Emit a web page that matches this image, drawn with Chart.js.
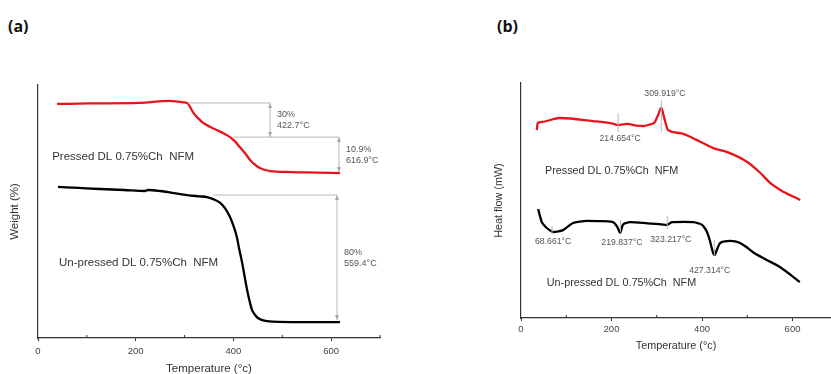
<!DOCTYPE html>
<html>
<head>
<meta charset="utf-8">
<script src="https://cdn.jsdelivr.net/npm/chart.js@4.4.1/dist/chart.umd.min.js"></script>
<style>
    html, body { margin: 0; padding: 0; background: #fff; }
    body { width: 831px; height: 374px; position: relative; overflow: hidden; }
    .panel { position: absolute; top: 0; height: 374px; }
    #boxA { left: 0; width: 415px; }
    #boxB { left: 415px; width: 416px; }
    .tag { position: absolute; top: 18px; font: bold 16px/16px "Open Sans", sans-serif; color: #111; }
</style>
</head>
<body>
<div class="tag" style="left:8px">(a)</div>
<div class="tag" style="left:497px">(b)</div>
<div class="panel" id="boxA"><canvas id="tgaChart"></canvas></div>
<div class="panel" id="boxB"><canvas id="dscChart"></canvas></div>

<script>
// ==== DATA (arbitrary y units) ====
const majorTicks = [0, 200, 400, 600];

// (a) TGA
const pressedTgaT = [39, 104, 207, 270, 290, 305, 311, 317, 327, 338, 352, 366, 380, 393, 403, 413, 424, 434, 444, 454, 465, 475, 520, 570, 618];
const pressedTgaW = [92.5, 92.7, 92.9, 93.7, 93.3, 92.9, 91.5, 89.3, 87.0, 85.0, 83.5, 82.2, 80.9, 79.4, 77.7, 75.5, 73.0, 70.4, 68.5, 67.2, 66.4, 66.0, 65.6, 65.4, 65.2];
const unpressedTgaT = [41, 84, 127, 176, 219, 225, 250, 278, 305, 330, 346, 360, 373, 383, 393, 401, 407, 412, 418, 423, 428, 433, 438, 444, 450, 459, 469, 493, 555, 618];
const unpressedTgaW = [59.7, 59.3, 58.9, 58.5, 58.1, 58.5, 58.1, 57.3, 56.5, 56.0, 55.7, 54.8, 53.4, 51.2, 47.8, 43.8, 39.9, 35.0, 29.6, 24.2, 19.0, 14.7, 11.1, 9.2, 7.9, 7.1, 6.7, 6.4, 6.3, 6.3];

// (b) DSC
const pressedDscT = [35, 37, 45, 86, 159, 200, 215, 235, 255, 270, 285, 295, 303, 310, 316, 325, 352, 389, 425, 456, 500, 529, 551, 573, 617];
const pressedDscH = [80.0, 83.0, 83.4, 85.1, 83.8, 82.8, 82.1, 82.6, 81.9, 81.7, 82.4, 83.2, 86.4, 89.4, 85.5, 80.0, 78.7, 75.7, 72.3, 70.6, 66.4, 61.7, 57.4, 54.5, 50.2];
const unpressedDscT = [38, 42, 46, 51, 57, 64, 71, 80, 93, 104, 115, 130, 146, 175, 203, 209, 214, 219, 222, 225, 233, 241, 280, 310, 323, 328, 334, 360, 380, 392, 400, 406, 411, 417, 424, 427, 429, 434, 440, 450, 462, 473, 484, 498, 512, 540, 572, 616];
const unpressedDscH = [46.4, 43.3, 40.8, 39.5, 38.3, 37.3, 36.6, 36.8, 37.4, 39.0, 40.4, 41.0, 41.3, 41.2, 40.8, 39.8, 38.3, 36.2, 37.8, 39.6, 40.5, 40.8, 40.3, 39.8, 39.6, 40.2, 40.8, 40.9, 40.8, 40.3, 39.6, 38.3, 36.6, 33.2, 28.0, 26.8, 27.2, 29.6, 31.9, 32.6, 32.8, 32.6, 31.9, 30.2, 28.1, 25.0, 21.7, 15.3];

// annotations
const tgaSteps = [
    { from: 307, to: 475, top: 92.9, bottom: 79.4, text: ['30%', '422.7°C'] },
    { from: 400, to: 616, top: 79.4, bottom: 65.6, text: ['10.9%', '616.9°C'] },
    { from: 358, to: 612, top: 56.5, bottom: 7.1, text: ['80%', '559.4°C'] }
];
const tgaNames = [[29, 71.5, 'Pressed DL 0.75%Ch  NFM'], [43, 29.6, 'Un-pressed DL 0.75%Ch  NFM']];

const dscPeaks = [
    { t: 214.654, top: 87.2, bottom: 79.1, lx: 219, ly: 76.2 },
    { t: 309.919, top: 92.8, bottom: 79.1, lx: 318, ly: 95.7 },
    { t: 68.661, top: 39.1, bottom: 35.7, lx: 71, ly: 32.3 },
    { t: 219.837, top: 41.7, bottom: 36.4, lx: 223, ly: 31.9 },
    { t: 323.217, top: 43.4, bottom: 38.0, lx: 331, ly: 33.2 },
    { t: 427.314, top: 33.2, bottom: 26.5, lx: 417, ly: 20.0 }
];
const dscNames = [[53, 62.7, 'Pressed DL 0.75%Ch  NFM'], [57, 14.9, 'Un-pressed DL 0.75%Ch  NFM']];

const FONT = '"Liberation Sans", Arial, sans-serif';
const toXY = (xs, ys) => xs.map((x, i) => ({ x: x, y: ys[i] }));

// draws the gray guide lines, labels and the small inward minor ticks
const notesPlugin = {
    id: 'notes',
    afterDatasetsDraw(chart, args, opts) {
        const ctx = chart.ctx;
        const xs = chart.scales.x, ys = chart.scales.y;
        const px = v => xs.getPixelForValue(v);
        const py = v => ys.getPixelForValue(v);
        ctx.save();
        ctx.strokeStyle = '#b8b8b8';
        ctx.fillStyle = '#a8a8a8';
        ctx.lineWidth = 1;

        (opts.steps || []).forEach(s => {
            const xr = px(s.to);
            ctx.beginPath();
            ctx.moveTo(px(s.from), py(s.top));
            ctx.lineTo(xr, py(s.top));
            ctx.moveTo(xr, py(s.top));
            ctx.lineTo(xr, py(s.bottom));
            ctx.stroke();
            [[py(s.top), 1], [py(s.bottom), -1]].forEach(([yy, d]) => {
                ctx.beginPath();
                ctx.moveTo(xr, yy);
                ctx.lineTo(xr - 2, yy + 5 * d);
                ctx.lineTo(xr + 2, yy + 5 * d);
                ctx.closePath();
                ctx.fill();
            });
        });

        (opts.peaks || []).forEach(p => {
            ctx.beginPath();
            ctx.moveTo(px(p.t), py(p.top));
            ctx.lineTo(px(p.t), py(p.bottom));
            ctx.stroke();
        });

        ctx.fillStyle = '#555';
        ctx.font = opts.noteFont + 'px ' + FONT;
        ctx.textBaseline = 'middle';
        ctx.textAlign = 'left';
        (opts.steps || []).forEach(s => {
            const yc = py((s.top + s.bottom) / 2);
            ctx.fillText(s.text[0], px(s.to) + 7, yc - 5.5);
            ctx.fillText(s.text[1], px(s.to) + 7, yc + 5.5);
        });
        ctx.textAlign = 'center';
        (opts.peaks || []).forEach(p => {
            ctx.fillText(p.t.toFixed(3) + '°C', px(p.lx), py(p.ly));
        });

        ctx.fillStyle = '#333';
        ctx.font = opts.nameFont + 'px ' + FONT;
        ctx.textAlign = 'left';
        (opts.names || []).forEach(n => ctx.fillText(n[2], px(n[0]), py(n[1])));

        // minor ticks point inward
        ctx.strokeStyle = '#333';
        ctx.lineWidth = 1;
        const base = chart.chartArea.bottom;
        (opts.minor || []).forEach(v => {
            ctx.beginPath();
            ctx.moveTo(px(v), base);
            ctx.lineTo(px(v), base - 3);
            ctx.stroke();
        });
        ctx.restore();
    }
};

function makeChart(canvasId, cfg) {
    return new Chart(document.getElementById(canvasId), {
        type: 'line',
        data: {
            datasets: [
                { data: cfg.red, borderColor: '#e8141c', borderWidth: 2.3 },
                { data: cfg.black, borderColor: '#000', borderWidth: 2.3 }
            ]
        },
        options: {
            responsive: true,
            maintainAspectRatio: false,
            animation: false,
            parsing: false,
            elements: {
                point: { radius: 0 },
                line: { cubicInterpolationMode: 'monotone' }
            },
            layout: { padding: cfg.padding },
            plugins: {
                legend: { display: false },
                tooltip: { enabled: false },
                notes: cfg.notes
            },
            scales: {
                x: {
                    type: 'linear',
                    min: 0,
                    max: cfg.xMax,
                    afterBuildTicks: s => { s.ticks = majorTicks.map(v => ({ value: v })); },
                    afterFit: s => { s.height = cfg.xHeight; },
                    grid: { drawOnChartArea: false, tickLength: 3, color: '#333' },
                    border: { color: '#333', width: 1.2 },
                    ticks: { color: '#444', padding: cfg.tickPad, maxRotation: 0, font: { family: FONT, size: 9.5 } },
                    title: {
                        display: true, text: 'Temperature (°c)', color: '#333',
                        padding: { top: 0, bottom: cfg.titlePad },
                        font: { family: FONT, size: cfg.titleSize }
                    }
                },
                y: {
                    min: 0,
                    max: 100,
                    afterFit: s => { s.width = cfg.yWidth; },
                    grid: { display: false },
                    ticks: { display: false },
                    border: { color: '#333', width: 1.2 },
                    title: {
                        display: true, text: cfg.yTitle, color: '#333',
                        padding: 0,
                        font: { family: FONT, size: cfg.titleSize }
                    }
                }
            }
        },
        plugins: [notesPlugin]
    });
}

makeChart('tgaChart', {
    red: toXY(pressedTgaT, pressedTgaW),
    black: toXY(unpressedTgaT, unpressedTgaW),
    xMax: 700,
    padding: { top: 85, left: 8, right: 35, bottom: 0 },
    xHeight: 36,
    yWidth: 30,
    tickPad: 5,
    titlePad: -2,
    titleSize: 11.5,
    yTitle: 'Weight (%)',
    notes: { steps: tgaSteps, names: tgaNames, minor: [100, 300, 500, 700], noteFont: 9, nameFont: 11.5 }
});

makeChart('dscChart', {
    red: toXY(pressedDscT, pressedDscH),
    black: toXY(unpressedDscT, unpressedDscH),
    xMax: 685,
    padding: { top: 83, left: 78, right: 0, bottom: 21 },
    xHeight: 35,
    yWidth: 28,
    tickPad: 3,
    titlePad: 0,
    titleSize: 10.8,
    yTitle: 'Heat flow (mW)',
    notes: { peaks: dscPeaks, names: dscNames, minor: [100, 300, 500], noteFont: 8.7, nameFont: 10.8 }
});
</script>
</body>
</html>
